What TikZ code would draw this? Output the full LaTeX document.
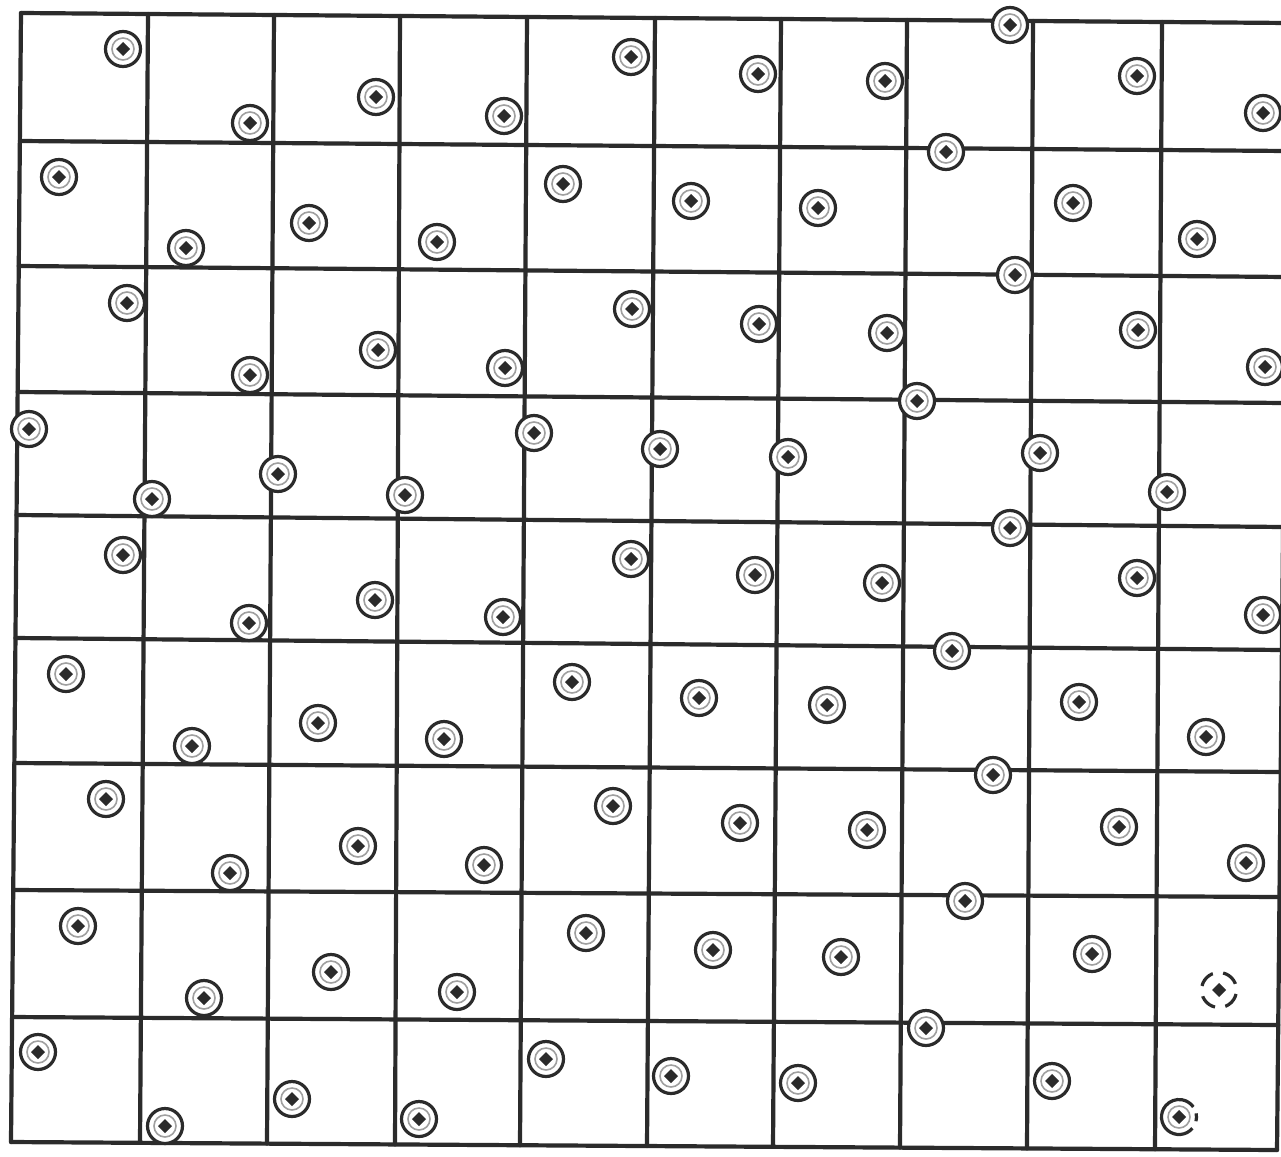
\documentclass[tikz,border=0pt]{standalone}
\definecolor{ink}{gray}{0.17}
\tikzset{
  gridline/.style={line width=4.2pt, draw=ink, line cap=round},
  mkring/.style={line width=3.2pt, draw=ink, fill=white},
  mkinner/.style={line width=1.6pt, draw=ink!45},
  mkdot/.style={fill=ink},
  marker/.pic={
    \path[mkring] (0,0) circle[radius=17.5];
    \path[mkinner] (0,0) circle[radius=11];
    \path[mkdot] (0,7) -- (7,0) -- (0,-7) -- (-7,0) -- cycle;
  },
  dashmarker/.pic={
    \path[fill=white] (0,0) circle[radius=17.5];
    \path[draw=ink, line width=3.2pt, dash pattern=on 17pt off 10.5pt, dash phase=-4pt] (17.5,0) arc[start angle=0, end angle=360, radius=17.5];
    \path[mkdot] (0,7) -- (7,0) -- (0,-7) -- (-7,0) -- cycle;
  },
  halfmarker/.pic={
    \path[fill=white] (0,0) circle[radius=17.5];
    \path[draw=ink, line width=3.2pt] (40:17.5) arc[start angle=40, end angle=325, radius=17.5];
    \path[draw=ink, line width=3.2pt] (-12:17.5) arc[start angle=-12, end angle=14, radius=17.5];
    \path[mkinner] (0,0) circle[radius=11];
    \path[mkdot] (0,7) -- (7,0) -- (0,-7) -- (-7,0) -- cycle;
  }
}
\begin{document}
\begin{tikzpicture}[x=1pt,y=-1pt]
\useasboundingbox (0,0) rectangle (1281,1156);
\fill[white] (0,0) rectangle (1281,1156);
\clip (0,0) rectangle (1281,1156);
% horizontal grid lines
\foreach \i/\yl/\yr in {0/13/23,1/141/151,2/266/277,3/392/403,4/515/527,5/638/650,6/763/772,7/890/897,8/1017/1025,9/1142/1150}
  \draw[gridline] ({21-10*\i/9},\yl) -- ({1288-11*\i/9},\yr);
% vertical grid lines
\foreach \j/\xt/\xb in {0/21/11,1/148/140,2/274/267,3/400/395,4/527/520,5/655/647,6/781/773,7/907/900,8/1033/1027,9/1162/1155,10/1288/1277}
  \draw[gridline] (\xt,{13+\j}) -- (\xb,{1142+0.8*\j});
% markers
\foreach \x/\y in {
  123/49,250/123,376/97,504/116,631/57,758/74,885/81,1010/25,1137/76,1263/113,
  59/177,186/248,309/223,437/242,563/184,691/201,818/208,946/152,1073/203,1197/239,
  127/303,250/375,378/350,505/368,632/309,759/324,887/333,1015/275,1138/330,1265/367,
  29/429,152/499,278/474,405/495,534/433,660/449,788/457,917/401,1040/453,1167/492,
  123/555,249/623,375/600,503/617,631/559,755/575,882/583,1010/528,1137/578,1263/615,
  66/674,192/746,318/723,444/739,572/682,699/698,827/705,952/651,1079/702,1206/737,
  106/799,230/873,358/846,484/865,613/806,740/823,867/830,993/775,1119/827,1246/863,
  78/926,204/998,331/972,457/992,586/933,713/950,841/957,965/901,1092/954,
  38/1052,165/1126,292/1099,419/1119,546/1059,671/1076,798/1083,926/1028,1052/1081}
  \pic at (\x,\y) {marker};
\pic at (1219,990) {dashmarker};
\pic at (1179,1117) {halfmarker};
\end{tikzpicture}
\end{document}
